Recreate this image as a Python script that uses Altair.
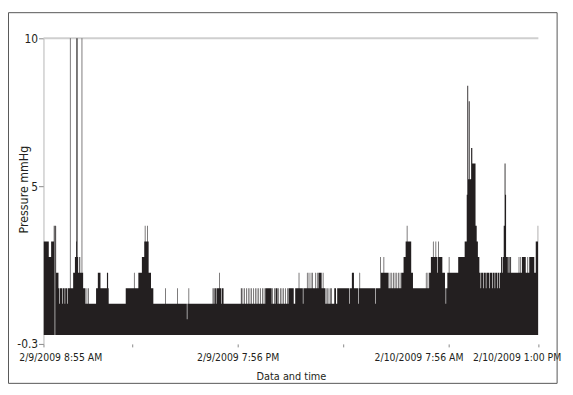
import altair as alt
import pandas as pd

# Pressure readings (mmHg), run-length: segment start time in minutes after 2/9/2009 8:55 AM
r1_t = [0, 18, 26, 35, 38, 40, 43, 51, 54, 56, 63, 65, 72, 74, 81, 83, 90, 92]
r1_p = [3.15, 2.63, 3.15, 3.68, 0, 3.68, 2.1, 1.58, 1.05, 1.58, 1.05, 1.58, 1.05, 1.58, 1.05, 1.58, 11, 1.58]
r2_t = [101, 107, 111, 112, 116, 118, 122, 125, 130, 132, 135, 143, 147, 149, 152, 154]
r2_p = [2.1, 2.63, 3.15, 11, 2.63, 2.1, 2.63, 2.1, 11, 2.1, 1.58, 1.05, 1.58, 1.05, 1.58, 1.05]
r3_t = [179, 185, 194, 216, 220, 222, 280, 308, 310, 323, 335, 343, 345, 347, 353, 355, 358, 366, 374]
r3_p = [1.58, 2.1, 1.58, 2.1, 1.58, 1.05, 1.58, 2.1, 1.58, 2.1, 2.63, 3.15, 3.68, 3.15, 3.68, 3.15, 2.1, 1.58, 1.05]
r4_t = [415, 417, 455, 457, 488, 490, 494, 496]
r4_p = [1.58, 1.05, 1.58, 1.05, 0.53, 1.05, 1.58, 1.05]
r5_t = [576, 579, 582, 587, 589, 599, 601, 605, 607, 613]
r5_p = [1.58, 1.05, 1.58, 1.05, 1.58, 2.1, 1.58, 1.05, 1.58, 1.05]
r6_t = [672, 675, 678, 680, 684, 686, 690, 692, 696, 698, 702, 704, 708, 710,
        714, 716, 720, 722, 726, 728, 732, 734, 738, 740, 744, 746, 750, 752]
r6_p = [1.58, 1.05, 1.58, 1.05, 1.58, 1.05, 1.58, 1.05, 1.58, 1.05, 1.58, 1.05, 1.58, 1.05,
        1.58, 1.05, 1.58, 1.05, 1.58, 1.05, 1.58, 1.05, 1.58, 1.05, 1.58, 1.05, 1.58, 1.05]
r7_t = [755, 777, 779, 781, 785, 787, 790, 797, 800, 802, 806, 808, 811, 813,
        817, 819, 823, 825, 829, 831, 834, 852, 857]
r7_p = [1.58, 1.05, 1.58, 1.05, 1.58, 1.05, 1.58, 1.05, 1.58, 1.05, 1.58, 1.05, 1.58, 1.05,
        1.58, 1.05, 1.58, 1.05, 1.58, 1.05, 1.58, 1.05, 1.58]
r8_t = [869, 871, 883, 885, 897, 899, 903, 905, 910, 912, 915, 917, 926, 928, 931, 933, 936, 947, 951, 953]
r8_p = [2.1, 1.58, 1.05, 1.58, 2.1, 1.58, 2.1, 1.58, 2.1, 1.58, 2.1, 1.58, 2.1, 1.58, 2.1, 1.58, 2.1, 1.58, 2.1, 1.58]
r9_t = [960, 964, 967, 971, 973, 977, 981, 990, 996, 1000]
r9_p = [1.05, 1.58, 1.05, 1.58, 1.05, 1.58, 1.05, 1.58, 1.05, 1.58]
r10_t = [1041, 1043, 1050, 1057, 1072, 1074, 1076, 1078, 1130, 1132, 1147, 1149, 1158, 1160]
r10_p = [1.05, 1.58, 2.1, 1.58, 1.05, 1.58, 2.1, 1.58, 1.05, 1.58, 2.63, 2.1, 2.63, 2.1]
r11_t = [1175, 1179, 1181, 1185, 1187, 1191, 1193, 1196, 1198, 1202, 1204, 1207, 1209, 1213, 1215]
r11_p = [1.58, 2.1, 1.58, 2.1, 1.58, 2.1, 1.58, 2.1, 1.58, 2.1, 1.58, 2.1, 1.58, 2.1, 1.58]
r12_t = [1218, 1226, 1233, 1237, 1239, 1252, 1258]
r12_p = [2.1, 2.63, 3.15, 3.68, 3.15, 2.1, 1.58]
r13_t = [1302, 1304, 1308, 1310, 1313, 1319, 1326, 1328, 1335, 1337, 1340, 1342, 1344, 1346,
         1358, 1367, 1369, 1371, 1375, 1380, 1382]
r13_p = [2.1, 1.58, 2.1, 1.58, 2.1, 2.63, 3.15, 2.63, 3.15, 2.63, 2.1, 2.63, 3.15, 2.63,
         2.1, 1.58, 1.05, 1.58, 2.1, 2.63, 2.1]
r14_t = [1412, 1434, 1441, 1443, 1446, 1448, 1451, 1456, 1460, 1471, 1475, 1479]
r14_p = [2.63, 3.15, 4.73, 8.4, 5.25, 7.88, 5.25, 6.3, 5.78, 3.68, 3.15, 2.63]
r15_t = [1484, 1488, 1490, 1497, 1499, 1506, 1508, 1517, 1519, 1528, 1530, 1536, 1538, 1545, 1547, 1551, 1553]
r15_p = [2.1, 1.58, 2.1, 1.58, 2.1, 1.58, 2.1, 1.58, 2.1, 1.58, 2.1, 1.58, 2.1, 1.58, 2.1, 1.58, 2.1]
r16_t = [1558, 1562, 1564, 1567, 1570, 1573, 1575, 1581, 1583, 1587, 1589, 1592]
r16_p = [2.63, 2.1, 2.63, 3.68, 5.78, 4.73, 2.63, 2.1, 2.63, 2.1, 2.63, 2.1]
r17_t = [1618, 1620, 1624, 1626, 1629, 1642, 1648, 1650, 1654, 1671, 1676, 1683]
r17_p = [2.63, 2.1, 2.63, 2.1, 2.63, 2.1, 2.63, 2.1, 2.63, 2.1, 3.15, 3.68]
end_time = 1685

x_tick_values = [0, 301, 661, 1021, 1381, 1685]
x_tick_labels = ["2/9/2009 8:55 AM", "", "2/9/2009 7:56 PM", "", "2/10/2009 7:56 AM", "2/10/2009 1:00 PM"]
x_label_shift = [17, 0, 0, 0, -31, -22]
y_tick_values = [-0.3, 5, 10]
y_tick_labels = ["-0.3", "5", "10"]

times = (r1_t + r2_t + r3_t + r4_t + r5_t + r6_t + r7_t + r8_t + r9_t + r10_t
         + r11_t + r12_t + r13_t + r14_t + r15_t + r16_t + r17_t)
press = (r1_p + r2_p + r3_p + r4_p + r5_p + r6_p + r7_p + r8_p + r9_p + r10_p
         + r11_p + r12_p + r13_p + r14_p + r15_p + r16_p + r17_p)
assert len(times) == len(press)

# step series: each reading holds until the next one; close at the end time
df = pd.DataFrame({"t": times + [end_time], "p": press + [press[-1]]})

FONT = "DejaVu Sans Condensed, Liberation Sans Narrow, sans-serif"
INK = "#231f20"

def label_expr(vals, labels):
    expr = "''"
    for v, l in zip(reversed(vals), reversed(labels)):
        expr = f"(abs(datum.value - ({v})) < 0.001 ? '{l}' : {expr})"
    return expr

offset_conds = [{"test": f"datum.value == {v}", "value": s}
                for v, s in zip(x_tick_values, x_label_shift) if s != 0]

xscale = alt.Scale(domain=[0, end_time], nice=False, zero=False)
yscale = alt.Scale(domain=[y_tick_values[0], y_tick_values[-1]], nice=False, zero=False)

trace = alt.Chart(df).mark_area(color=INK, interpolate="step-after", clip=True, opacity=1).encode(
    x=alt.X("t:Q", scale=xscale,
            axis=alt.Axis(values=x_tick_values, labelExpr=label_expr(x_tick_values, x_tick_labels),
                          title="Data and time", domain=False, grid=False,
                          tickSize=3, tickColor="#888888", labelPadding=6,
                          labelFlush=False, labelOverlap=False, labelFontSize=10.5,
                          labelOffset={"condition": offset_conds, "value": 0},
                          titleFontSize=11, titleY=27)),
    y=alt.Y("p:Q", scale=yscale,
            axis=alt.Axis(values=y_tick_values, labelExpr=label_expr(y_tick_values, y_tick_labels),
                          title="Pressure mmHg", grid=False, domain=True,
                          domainColor="#b5b5b5", tickColor="#888888", tickSize=5,
                          labelFontSize=12, labelPadding=1, titleFontSize=12.5,
                          titleX=-13, titleY=153)),
    y2=alt.datum(0),
)

top_rule = alt.Chart(pd.DataFrame({"y": [y_tick_values[-1]]})).mark_rule(
    color="#cfcfcf", strokeWidth=2).encode(y=alt.Y("y:Q", scale=yscale))

frame = alt.Chart(pd.DataFrame({"a": [0]})).mark_rect(
    fill=None, fillOpacity=0, stroke="#555555", strokeWidth=1).encode(
    x=alt.value(-35.5), x2=alt.value(521), y=alt.value(-26), y2=alt.value(350))

chart = alt.layer(top_rule, trace, frame).properties(
    width=502, height=310,
    autosize=alt.AutoSizeParams(type="none"),
    padding={"left": 36, "top": 28, "right": 27, "bottom": 45},
).configure_view(stroke=None).configure_axis(
    labelFont=FONT, titleFont=FONT,
    labelColor=INK, titleColor=INK, titleFontWeight="normal",
)

chart.save("out.html", embed_options={"renderer": "svg", "actions": False})
